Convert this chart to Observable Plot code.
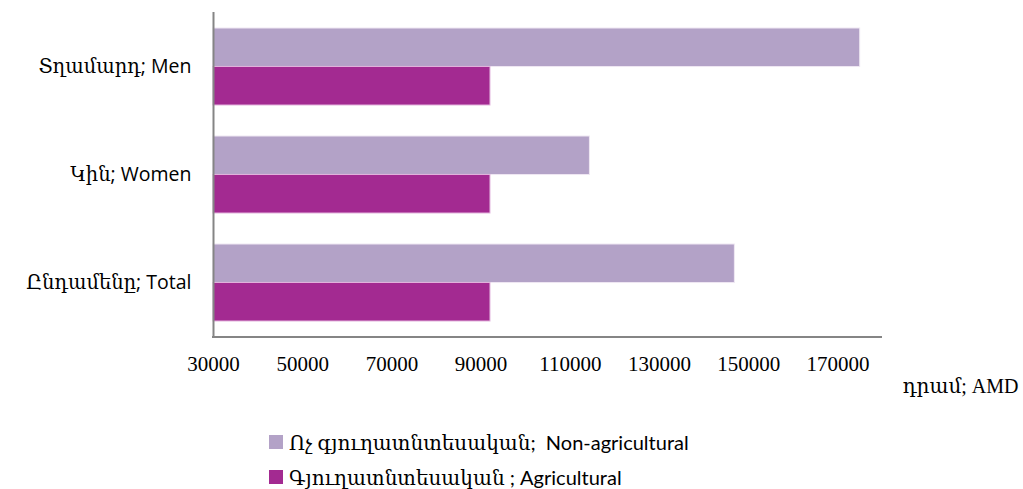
<!DOCTYPE html>
<html>
<head>
<meta charset="utf-8">
<script src="https://cdn.jsdelivr.net/npm/d3@7"></script>
<script src="https://cdn.jsdelivr.net/npm/@observablehq/plot@0.6"></script>
<style>
  html, body { margin: 0; padding: 0; background: #fff; }
  #wrap { position: relative; width: 1023px; height: 489px; overflow: hidden; }
  #chart svg { display: block; }
  .legend-row { position: absolute; left: 269px; display: flex; align-items: center; font-family: "Lato", "DejaVu Serif", serif; font-size: 20px; color: #000; white-space: pre; }
  .swatch { width: 14px; height: 14px; margin-right: 6px; }
</style>
</head>
<body>
<div id="wrap">
  <div id="chart"></div>
</div>
<script>
// ---- data ----
const categories = ["Տղամարդ; Men", "Կին; Women", "Ընդամենը; Total"];
const nonAgricultural = [175000, 114400, 146900];
const agricultural = [92100, 92100, 92100];
const seriesNames = ["Ոչ գյուղատնտեսական;  Non-agricultural", "Գյուղատնտեսական ; Agricultural"];
const seriesColors = ["#b3a2c7", "#a32a91"];
const xTicks = [30000, 50000, 70000, 90000, 110000, 130000, 150000, 170000];
const xDomain = [30000, 180000];
const unitLabel = "դրամ; AMD";

// ---- table built from arrays ----
const nonAgRows = categories.map((c, i) => ({category: c, value: nonAgricultural[i]}));
const agRows = categories.map((c, i) => ({category: c, value: agricultural[i]}));

const height = 405;
const marginTop = 12, marginBottom = height - 337, marginLeft = 213, marginRight = 1023 - 882;
const step = (337 - 12) / 3;
const halfBand = step * 0.71 / 2;
const axisColor = "#858585";

// bottom axis line drawn from the x scale
function bottomLine(index, scales, values, dims) {
  const g = d3.create("svg:g");
  const yb = dims.height - dims.marginBottom;
  g.append("line")
    .attr("x1", scales.x(xDomain[0]) - 1).attr("x2", scales.x(xDomain[1]))
    .attr("y1", yb).attr("y2", yb)
    .attr("stroke", axisColor).attr("stroke-width", 2);
  return g.node();
}

const chart = Plot.plot({
  width: 1023,
  height,
  marginTop, marginBottom, marginLeft, marginRight,
  style: {fontFamily: "'Open Sans', 'DejaVu Serif', sans-serif", background: "#fff", color: "#000"},
  x: {domain: xDomain},
  y: {domain: categories, paddingInner: 0.29, paddingOuter: 0.145},
  marks: [
    Plot.barX(nonAgRows, {
      y: "category", x1: () => xDomain[0], x2: "value",
      fill: seriesColors[0], stroke: "#efe8f3", strokeWidth: 1,
      insetBottom: halfBand
    }),
    Plot.barX(agRows, {
      y: "category", x1: () => xDomain[0], x2: "value",
      fill: seriesColors[1], stroke: "#e2b3dc", strokeWidth: 1,
      insetTop: halfBand
    }),
    Plot.ruleX([xDomain[0]], {stroke: axisColor, strokeWidth: 2}),
    bottomLine,
    Plot.axisY({
      tickSize: 0, tickPadding: 22, label: null, fontSize: 19.5
    }),
    Plot.axisX({
      ticks: xTicks, tickFormat: d => String(d), tickSize: 0, tickPadding: 19,
      label: null, fontSize: 21, fontFamily: "'Liberation Serif', serif"
    }),
    Plot.text([unitLabel], {
      frameAnchor: "bottom-right", text: d => d, textAnchor: "end",
      dx: 136, dy: 55, fontSize: 20, fontFamily: "'Liberation Serif', 'DejaVu Serif', serif", fill: "#000"
    })
  ]
});
document.getElementById("chart").appendChild(chart);

// ---- legend below the SVG ----
const wrap = document.getElementById("wrap");
const legendTops = [442, 477];
seriesNames.forEach((name, i) => {
  const row = document.createElement("div");
  row.className = "legend-row";
  row.style.top = (legendTops[i] - 13) + "px";
  row.style.height = "26px";
  const sw = document.createElement("div");
  sw.className = "swatch";
  sw.style.background = seriesColors[i];
  const tx = document.createElement("span");
  tx.textContent = name;
  row.appendChild(sw);
  row.appendChild(tx);
  wrap.appendChild(row);
});
</script>
</body>
</html>
